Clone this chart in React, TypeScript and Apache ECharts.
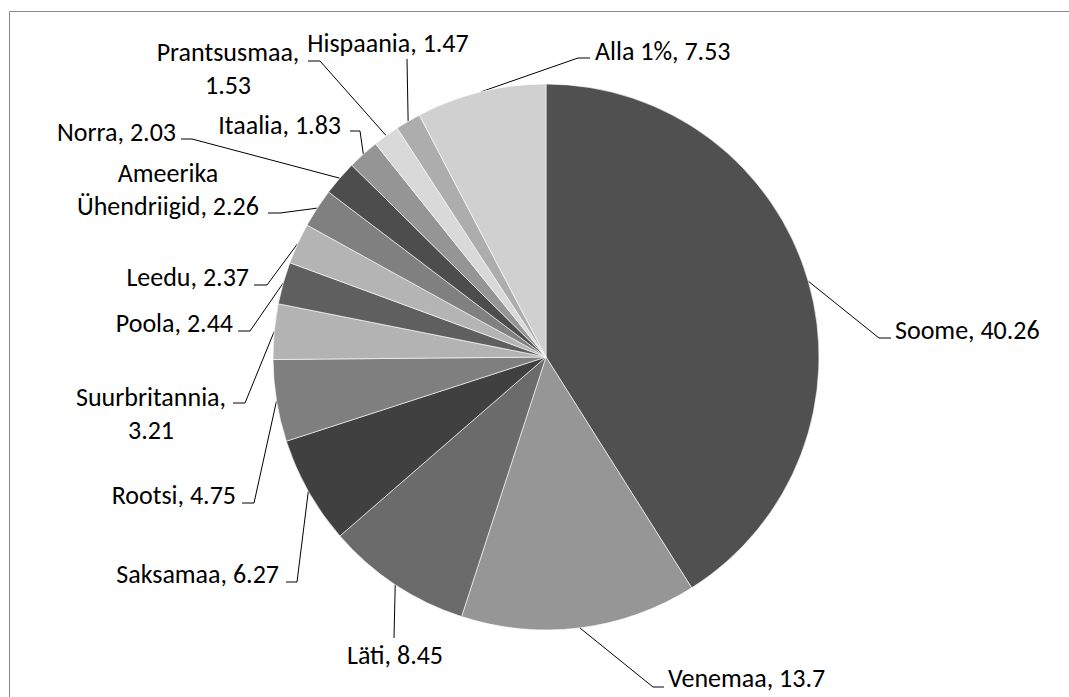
import React, { useEffect, useRef } from "react";
import * as echarts from "echarts";

// ---- data ----
const countries: string[] = [
  "Soome",
  "Venemaa",
  "Läti",
  "Saksamaa",
  "Rootsi",
  "Suurbritannia",
  "Poola",
  "Leedu",
  "Ameerika Ühendriigid",
  "Norra",
  "Itaalia",
  "Prantsusmaa",
  "Hispaania",
  "Alla 1%",
];
const shares: number[] = [40.26, 13.7, 8.45, 6.27, 4.75, 3.21, 2.44, 2.37, 2.26, 2.03, 1.83, 1.53, 1.47, 7.53];
const sliceColors: string[] = [
  "#505050",
  "#969696",
  "#6b6b6b",
  "#404040",
  "#7f7f7f",
  "#b3b3b3",
  "#5f5f5f",
  "#b4b4b4",
  "#808080",
  "#4d4d4d",
  "#959595",
  "#d9d9d9",
  "#adadad",
  "#d0d0d0",
];
const wrapAfterComma: string[] = ["Suurbritannia", "Prantsusmaa"];

// ---- layout (label placement, not data) ----
const CENTER = [546, 357];
const RADIUS = 273;
type LL = { x: number; y: number; align: string; bend: number[]; end: number[] };
const labelPlacement: LL[] = [
  { x: 895, y: 330, align: "left", bend: [879, 338], end: [891, 338] },
  { x: 668, y: 678, align: "left", bend: [653, 687], end: [664, 687] },
  { x: 395, y: 655, align: "center", bend: [394, 638], end: [394, 638] },
  { x: 279, y: 574, align: "right", bend: [297, 582], end: [286, 582] },
  { x: 236, y: 495, align: "right", bend: [254, 503], end: [242, 503] },
  { x: 151, y: 413, align: "center", bend: [245, 403], end: [233, 403] },
  { x: 233, y: 323, align: "right", bend: [250, 331], end: [238, 331] },
  { x: 249, y: 277, align: "right", bend: [267, 285], end: [254, 285] },
  { x: 168, y: 189, align: "center", bend: [280, 213], end: [268, 213] },
  { x: 176, y: 132, align: "right", bend: [192, 139], end: [181, 139] },
  { x: 341, y: 125, align: "right", bend: [360, 131], end: [350, 131] },
  { x: 228, y: 68, align: "center", bend: [320, 61], end: [308, 61] },
  { x: 388, y: 43, align: "center", bend: [407, 59], end: [407, 59] },
  { x: 595, y: 51, align: "left", bend: [578, 58], end: [590, 58] },
];

const FONT = "Carlito, Calibri, Lato, sans-serif";

function labelText(name: string, value: number): string {
  if (wrapAfterComma.indexOf(name) >= 0) return `${name},\n${value}`;
  if (name.indexOf(" ") > 0 && name !== "Alla 1%") return `${name.replace(" ", "\n")}, ${value}`;
  return `${name}, ${value}`;
}

export default function App() {
  const ref = useRef<HTMLDivElement>(null);
  useEffect(() => {
    if (!ref.current) return;
    const chart = echarts.init(ref.current, undefined, { renderer: "svg" });
    const total = shares.reduce((a, b) => a + b, 0);
    const option: any = {
      animation: false,
      backgroundColor: "#ffffff",
      graphic: [
        {
          type: "rect",
          z: -10,
          shape: { x: 9.5, y: 11.5, width: 1100, height: 720 },
          style: { fill: "none", stroke: "#888888", lineWidth: 1 },
        },
      ],
      series: [
        {
          type: "pie",
          center: CENTER,
          radius: RADIUS,
          startAngle: 90,
          clockwise: true,
          avoidLabelOverlap: false,
          data: countries.map((name, i) => ({
            name,
            value: shares[i],
            itemStyle: { color: sliceColors[i] },
          })),
          itemStyle: { borderColor: "#ffffff", borderWidth: 0.6 },
          label: {
            show: true,
            position: "outside",
            color: "#000000",
            fontFamily: FONT,
            fontSize: 26,
            lineHeight: 33,
            formatter: (p: any) => labelText(p.name, p.value),
          },
          labelLine: {
            show: true,
            length: 10,
            length2: 10,
            lineStyle: { color: "#000000", width: 1 },
          },
          labelLayout: (params: any) => {
            const L = labelPlacement[params.dataIndex];
            let anchor: number[] | null =
              params.labelLinePoints && params.labelLinePoints[0]
                ? [params.labelLinePoints[0][0], params.labelLinePoints[0][1]]
                : null;
            if (!anchor) {
              let before = 0;
              for (let k = 0; k < params.dataIndex; k++) before += shares[k];
              const mid = ((before + shares[params.dataIndex] / 2) / total) * Math.PI * 2;
              anchor = [CENTER[0] + RADIUS * Math.sin(mid), CENTER[1] - RADIUS * Math.cos(mid)];
            }
            return {
              x: L.x,
              y: L.y,
              align: L.align,
              verticalAlign: "middle",
              labelLinePoints: [anchor, L.bend, L.end],
            };
          },
          emphasis: { disabled: true },
        },
      ],
    };
    chart.setOption(option);
    return () => chart.dispose();
  }, []);
  return (
    <div
      ref={ref}
      style={{ position: "absolute", left: 0, top: 0, width: 1069, height: 697 }}
    />
  );
}
